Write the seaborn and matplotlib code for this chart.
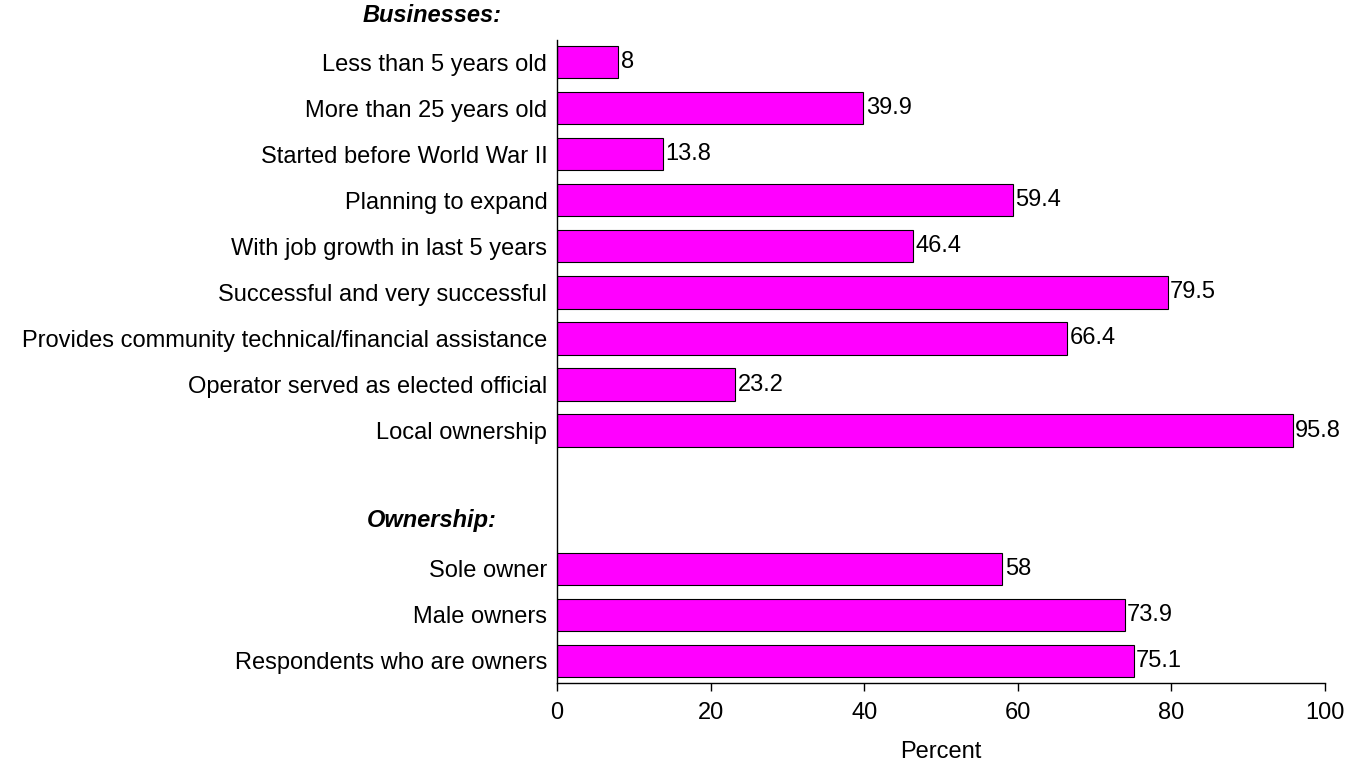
import matplotlib
matplotlib.use("Agg")
import matplotlib.pyplot as plt
import seaborn as sns
import pandas as pd

business_labels = [
    "Less than 5 years old",
    "More than 25 years old",
    "Started before World War II",
    "Planning to expand",
    "With job growth in last 5 years",
    "Successful and very successful",
    "Provides community technical/financial assistance",
    "Operator served as elected official",
    "Local ownership",
]
business_values = [8, 39.9, 13.8, 59.4, 46.4, 79.5, 66.4, 23.2, 95.8]

ownership_labels = ["Sole owner", "Male owners", "Respondents who are owners"]
ownership_values = [58, 73.9, 75.1]

x_ticks = [0, 20, 40, 60, 80, 100]

sns.set_theme(style="white")
plt.rcParams["font.family"] = ["Liberation Sans", "DejaVu Sans"]
plt.rcParams["text.color"] = "black"
plt.rcParams["axes.labelcolor"] = "black"
plt.rcParams["xtick.color"] = "black"
plt.rcParams["ytick.color"] = "black"

FS = 17

df = pd.DataFrame({
    "label": business_labels + ownership_labels,
    "value": business_values + ownership_values,
})
gap1, gap2 = " ", "  "
order = business_labels + [gap1, gap2] + ownership_labels

fig = plt.figure(figsize=(13.56, 7.62), dpi=100)
ax = fig.add_axes([557 / 1356, 1 - 683 / 762, (1325 - 557) / 1356, (683 - 40) / 762])

sns.barplot(data=df, x="value", y="label", order=order, color="#FF00FF",
            saturation=1, edgecolor="black", linewidth=0.8, width=0.7, ax=ax)

for lab, val in zip(df["label"], df["value"]):
    pos = order.index(lab)
    ax.text(val + 0.3, pos, f"{val:g}", va="center", ha="left", fontsize=FS, color="black")

ax.set_xlim(0, 100)
ax.set_ylim(13.48, -0.48)
ax.set_xticks(x_ticks)
ax.set_xticklabels([str(t) for t in x_ticks], fontsize=FS)
ax.tick_params(axis="x", length=6, width=1, color="black", direction="out", pad=8, bottom=True)
ax.tick_params(axis="y", length=0, labelsize=FS, pad=7)
ax.set_yticks(range(len(order)))
ax.set_yticklabels(order)
ax.set_xlabel("Percent", fontsize=FS, labelpad=12)
ax.set_ylabel("")

for s in ["top", "right"]:
    ax.spines[s].set_visible(False)
for s in ["left", "bottom"]:
    ax.spines[s].set_color("black")
    ax.spines[s].set_linewidth(1)

fig.text(432 / 1356, 1 - 15 / 762, "Businesses:", ha="center", va="center",
         fontsize=FS, fontweight="bold", fontstyle="italic")
fig.text(432 / 1356, 1 - 521 / 762, "Ownership:", ha="center", va="center",
         fontsize=FS, fontweight="bold", fontstyle="italic")

fig.savefig("out.png", dpi=100, facecolor="white")
